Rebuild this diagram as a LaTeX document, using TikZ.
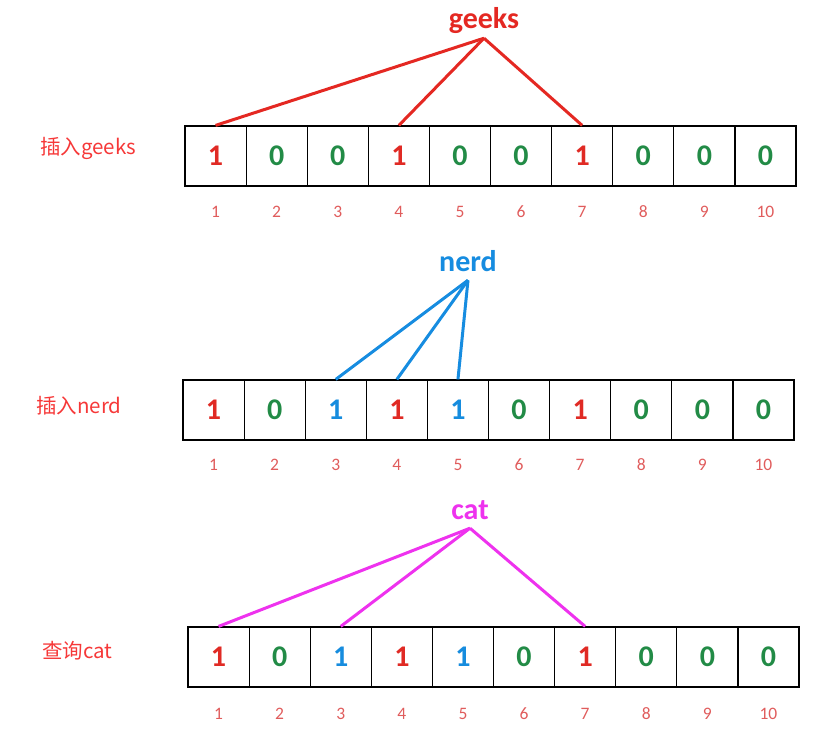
\documentclass[tikz,border=0pt]{standalone}
\usepackage{fontspec}
\setmainfont{Carlito}
\newfontfamily\cjk{Noto Sans CJK SC}
\usetikzlibrary{positioning}

\definecolor{bitred}{RGB}{224,42,36}
\definecolor{bitgreen}{RGB}{34,139,70}
\definecolor{bitblue}{RGB}{22,140,222}
\definecolor{hashred}{RGB}{228,40,34}
\definecolor{hashblue}{RGB}{22,140,224}
\definecolor{hashpink}{RGB}{238,50,238}
\definecolor{lblred}{RGB}{246,56,56}
\definecolor{idxred}{RGB}{224,92,92}

\begin{document}
\begin{tikzpicture}[x=1pt, y=-1pt]
			\tikzstyle{cell}    = [rectangle, draw=black, line width=1.2pt, minimum width=61.1pt, minimum height=60pt, inner sep=0pt, font=\bfseries\fontsize{30}{30}\selectfont]
			\tikzstyle{idx}     = [anchor=base, inner sep=0pt, font=\fontsize{17.5}{17.5}\selectfont, text=idxred]
			\tikzstyle{word}    = [anchor=base, inner sep=2pt, text height=20pt, text depth=7pt, font=\bfseries\fontsize{30}{30}\selectfont]
			\tikzstyle{caption} = [anchor=west, inner sep=0pt, text=lblred, font=\cjk\fontsize{20.5}{20.5}\selectfont]
			\tikzstyle{hash}    = [line width=3pt]

			\useasboundingbox (0,0) rectangle (840,738);
%			\draw[step=20pt, gray!30] (0,0) grid (840,738);

			% insert geeks
			\node[caption] (lg) at (40, 148) {插入geeks};
			\foreach \i/\b/\c in {1/1/bitred, 2/0/bitgreen, 3/0/bitgreen, 4/1/bitred, 5/0/bitgreen, 6/0/bitgreen, 7/1/bitred, 8/0/bitgreen, 9/0/bitgreen, 10/0/bitgreen}
			{
				\node[cell, text=\c] (g\i) at ({185+61.1*(\i-0.5)}, 156) {\b};
				\node[idx] (gi\i) at ([yshift=-31pt]g\i.south) {\i};
			}
			\node[word, text=hashred] (geeks) at (484, 29) {geeks};
			\foreach \to in {g1, g4, g7}
				\draw[hash, hashred] (geeks.south) -- (\to.north);

			% insert nerd
			\node[caption] (ln) at (36, 406) {插入nerd};
			\foreach \i/\b/\c in {1/1/bitred, 2/0/bitgreen, 3/1/bitblue, 4/1/bitred, 5/1/bitblue, 6/0/bitgreen, 7/1/bitred, 8/0/bitgreen, 9/0/bitgreen, 10/0/bitgreen}
			{
				\node[cell, text=\c] (n\i) at ({183+61.1*(\i-0.5)}, 410) {\b};
				\node[idx] (ni\i) at ([yshift=-30pt]n\i.south) {\i};
			}
			\node[word, text=hashblue] (nerd) at (468, 271) {nerd};
			\foreach \to in {n3, n4, n5}
				\draw[hash, hashblue] (nerd.south) -- (\to.north);

			% query cat
			\node[caption] (lc) at (42, 651) {查询cat};
			\foreach \i/\b/\c in {1/1/bitred, 2/0/bitgreen, 3/1/bitblue, 4/1/bitred, 5/1/bitblue, 6/0/bitgreen, 7/1/bitred, 8/0/bitgreen, 9/0/bitgreen, 10/0/bitgreen}
			{
				\node[cell, text=\c] (c\i) at ({188+61.1*(\i-0.5)}, 657) {\b};
				\node[idx] (ci\i) at ([yshift=-32pt]c\i.south) {\i};
			}
			\node[word, text=hashpink] (cat) at (470, 519) {cat};
			\foreach \to in {c1, c3, c7}
				\draw[hash, hashpink] (cat.south) -- (\to.north);

\end{tikzpicture}
\end{document}
